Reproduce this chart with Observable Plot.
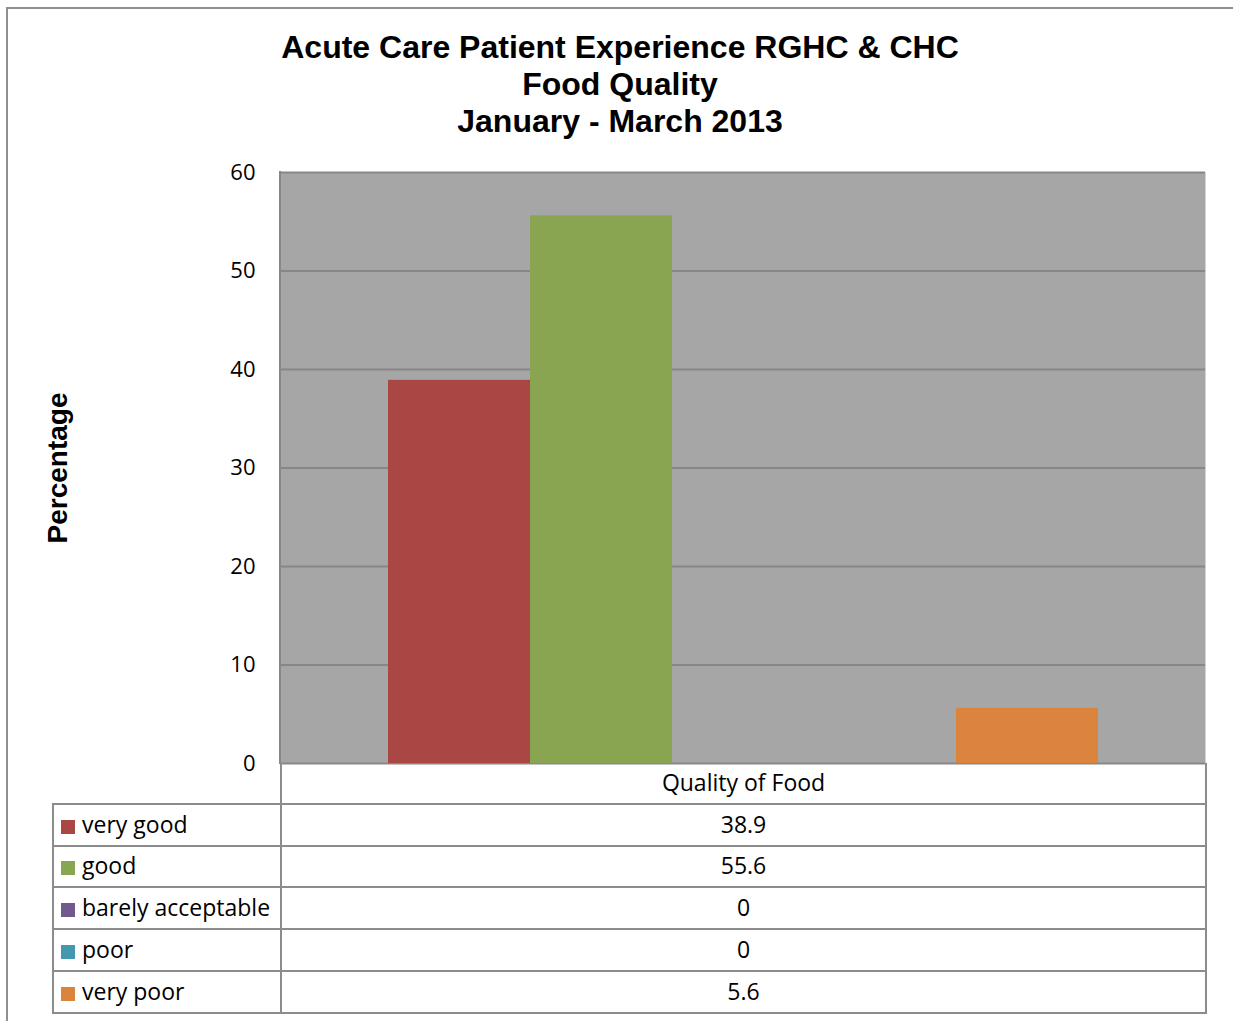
<!DOCTYPE html>
<html>
<head>
<meta charset="utf-8">
<script src="https://cdn.jsdelivr.net/npm/d3@7"></script>
<script src="https://cdn.jsdelivr.net/npm/@observablehq/plot@0.6"></script>
<style>
  html, body { margin: 0; padding: 0; background: #fff; overflow: hidden; }
  #wrap { position: relative; width: 1233px; height: 1021px; overflow: hidden; }
  #border { position: absolute; left: 6px; top: 7px; width: 1260px; height: 1060px; border: 2px solid #8f8f8f; box-sizing: border-box; }
  #title { position: absolute; left: 6px; width: 1228px; top: 29px; text-align: center;
           font-family: "Liberation Sans", Arial, sans-serif; font-weight: bold; font-size: 32px; line-height: 37px; color: #000; }
  #chart { position: absolute; left: 0; top: 150px; }
  #table { position: absolute; left: 52px; top: 763px; border-collapse: collapse; table-layout: fixed;
           font-family: "Open Sans", sans-serif; font-size: 23px; color: #000; }
  #table td { border: 2px solid #8c8c8c; padding: 0 0 2px 0; height: 37.8px; }
  #table td.val { text-align: center; }
  #table td.lab { padding-left: 7px; white-space: nowrap; }
  .sw { display: inline-block; width: 14px; height: 14px; margin-right: 7px; vertical-align: -1px; }
</style>
</head>
<body>
<div id="wrap">
  <div id="border"></div>
  <div id="title"></div>
  <div id="chart"></div>
  <table id="table"></table>
</div>
<script>
const titleLines = ["Acute Care Patient Experience RGHC & CHC", "Food Quality", "January - March 2013"];
const category = "Quality of Food";
const series = ["very good", "good", "barely acceptable", "poor", "very poor"];
const values = [38.9, 55.6, 0, 0, 5.6];
const colors = ["#a94745", "#8aa552", "#71588f", "#4298af", "#db843e"];
const yTicks = [0, 10, 20, 30, 40, 50, 60];
const yLabel = "Percentage";

const data = series.map((s, i) => ({series: s, value: values[i]}));

document.getElementById("title").innerHTML = titleLines.map(t => `<div>${t.replace(/&/g, "&amp;")}</div>`).join("");

// left edge of the plot frame, derived from the plot's own dimensions
function leftEdge(index, scales, values, dims) {
  const ns = "http://www.w3.org/2000/svg";
  const line = document.createElementNS(ns, "line");
  line.setAttribute("x1", dims.marginLeft);
  line.setAttribute("x2", dims.marginLeft);
  line.setAttribute("y1", dims.marginTop - 1);
  line.setAttribute("y2", dims.height - dims.marginBottom + 1);
  line.setAttribute("stroke", "#878787");
  line.setAttribute("stroke-width", 2);
  return line;
}

const plot = Plot.plot({
  width: 1233,
  height: 615,
  marginLeft: 280,
  marginRight: 28,
  marginTop: 22,
  marginBottom: 2,
  style: {fontFamily: "'Open Sans', sans-serif", fontSize: "22px", color: "#000", background: "transparent", overflow: "visible"},
  x: {domain: series, paddingInner: 0, paddingOuter: 0.75, axis: null},
  y: {domain: [0, 60], ticks: yTicks, tickSize: 0, tickPadding: 25, label: null},
  color: {domain: series, range: colors},
  marks: [
    Plot.frame({fill: "#a6a6a6", stroke: "none"}),
    Plot.gridY(yTicks, {stroke: "#878787", strokeOpacity: 1, strokeWidth: 2}),
    Plot.barY(data, {x: "series", y: "value", fill: "series"}),
    leftEdge,
    Plot.text([yLabel], {frameAnchor: "left", textAnchor: "middle", dx: -222, rotate: -90, fontFamily: "'Liberation Sans', Arial, sans-serif", fontWeight: "bold", fontSize: 28, fill: "#000"})
  ]
});
document.getElementById("chart").appendChild(plot);

// data table
const tbl = document.getElementById("table");
let html = `<colgroup><col style="width:228px"><col style="width:925px"></colgroup>`;
html += `<tr><td style="border:none;border-right:2px solid #8c8c8c"></td><td class="val" style="border-top:none">${category}</td></tr>`;
series.forEach((s, i) => {
  html += `<tr><td class="lab"><span class="sw" style="background:${colors[i]}"></span>${s}</td><td class="val">${String(values[i])}</td></tr>`;
});
tbl.innerHTML = html;
tbl.style.width = "1153px";
</script>
</body>
</html>
